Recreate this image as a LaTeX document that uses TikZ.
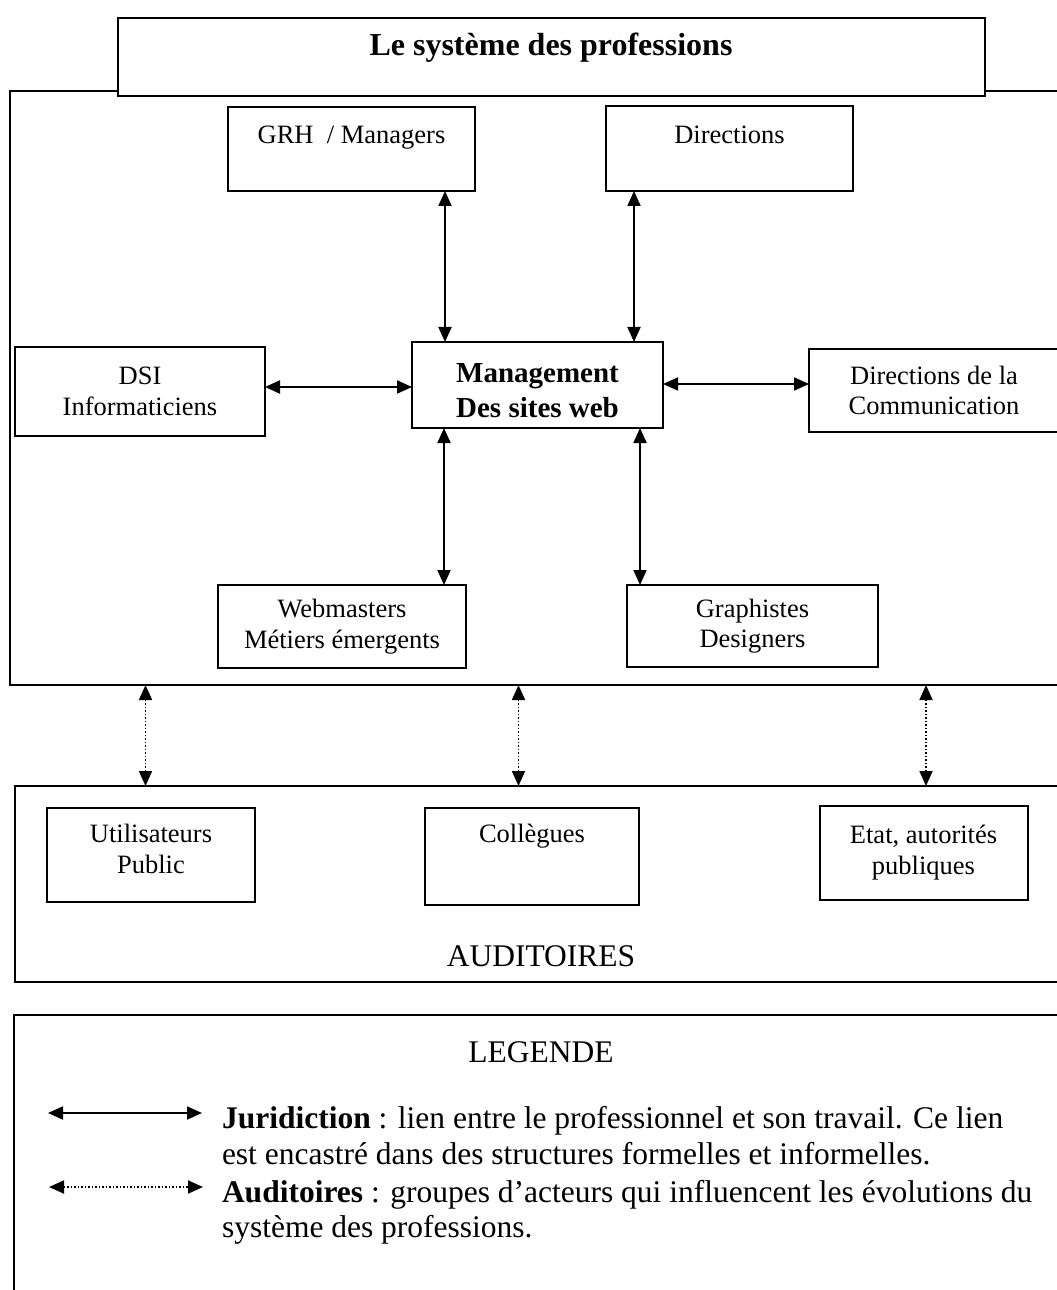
\documentclass[tikz,border=0pt]{standalone}
\usepackage{fontspec}
\setmainfont{Liberation Serif}
\usepackage{tikz}
\usetikzlibrary{arrows.meta}

\begin{document}
\begin{tikzpicture}[x = 0.4pt, y = -0.4pt, >={Triangle[length=6pt, width=5.2pt]}]
	\tikzstyle{every node} = [rectangle, inner sep = 0pt, outer sep = 0pt]
	\tikzstyle{cadre} = [draw = black, line width = 0.8pt, fill = white]
	\tikzstyle{petit} = [font = \fontsize{10.6}{12.2}\selectfont, align = center]
	\tikzstyle{grand} = [font = \fontsize{12.6}{14.4}\selectfont]
	\tikzstyle{lien} = [line width = 0.8pt, <->]
	\tikzstyle{audience} = [line width = 0.7pt, <->, dash pattern = on 0.7pt off 0.7pt]
\useasboundingbox (0,0) rectangle (1056,1290);
% les trois cadres
\node[cadre, minimum width = 424pt, minimum height = 237.6pt] (sys) at (540,388) {};
\node[cadre, minimum width = 422pt, minimum height = 78.4pt] (aud) at (542.5,884) {};
\node[cadre, minimum width = 422.4pt, minimum height = 118pt] (leg) at (542,1162.5) {};
\node[cadre, minimum width = 346.8pt, minimum height = 31.2pt] (titre) at (551.5,57) {};
\node[font = \fontsize{12.8}{14}\selectfont\bfseries] (titre-t) at (551,48) {Le système des professions};
% les professions
\node[cadre, minimum width = 98.8pt, minimum height = 33.6pt] (grh) at (351.5,149) {};
\node[petit] (grh-t) at (351.5,138) {GRH\ \ / Managers};
\node[cadre, minimum width = 98.8pt, minimum height = 34pt] (dir) at (729.5,148.5) {};
\node[petit] (dir-t) at (729.5,135) {Directions};
\node[cadre, petit, minimum width = 100pt, minimum height = 35.6pt] (dsi) at (140,391.5) {DSI\\Informaticiens};
\node[cadre, minimum width = 100.4pt, minimum height = 34.4pt] (mws) at (537.5,385) {};
\node[align = center, font = \fontsize{11.6}{14}\selectfont\bfseries] (mws-t) at (537.5,391) {Management\\Des sites web};
\node[cadre, petit, minimum width = 100pt, minimum height = 33.2pt] (com) at (934,390.5) {Directions de la\\Communication};
\node[cadre, petit, minimum width = 99.2pt, minimum height = 33.2pt] (web) at (342,626.5) {Webmasters\\Métiers émergents};
\node[cadre, petit, minimum width = 100.4pt, minimum height = 32.8pt] (gra) at (752.5,626) {Graphistes\\Designers};
% les auditoires
\node[cadre, minimum width = 83.2pt, minimum height = 37.6pt] (uti) at (151,854.5) {};
\node[petit] (uti-t) at (151,849) {Utilisateurs\\Public};
\node[cadre, minimum width = 85.6pt, minimum height = 38.8pt] (col) at (532,856.5) {};
\node[petit] (col-t) at (532,836) {Collègues};
\node[cadre, petit, minimum width = 83.2pt, minimum height = 37.4pt] (eta) at (923.5,852.75) {Etat, autorités\\publiques};
\node[grand] (aud-t) at (541,956) {AUDITOIRES};
% liens de juridiction
\coordinate (x1) at (445,0);
\coordinate (x2) at (634,0);
\coordinate (x3) at (444,0);
\coordinate (x4) at (640,0);
\coordinate (y1) at (0,387);
\coordinate (y2) at (0,384);
	\path[draw][lien] (grh.south -| x1) -- (mws.north -| x1);
	\path[draw][lien] (dir.south -| x2) -- (mws.north -| x2);
	\path[draw][lien] (dsi.east |- y1) -- (mws.west |- y1);
	\path[draw][lien] (mws.east |- y2) -- (com.west |- y2);
	\path[draw][lien] (mws.south -| x3) -- (web.north -| x3);
	\path[draw][lien] (mws.south -| x4) -- (gra.north -| x4);
% liens avec les auditoires
\coordinate (p1) at (145.5,0);
\coordinate (p2) at (518.5,0);
\coordinate (p3) at (926,0);
	\path[draw][audience] (sys.south -| p1) -- (aud.north -| p1);
	\path[draw][audience] (sys.south -| p2) -- (aud.north -| p2);
	\path[draw][audience] (sys.south -| p3) -- (aud.north -| p3);
% legende
\node[grand] (leg-t) at (541,1052) {LEGENDE};
\coordinate (j1) at (48,1113);
\coordinate (j2) at (202,1113);
\coordinate (a1) at (49,1187);
\coordinate (a2) at (203,1187);
	\path[draw][lien] (j1) -- (j2);
	\path[draw][audience] (a1) -- (a2);
\node[grand, anchor = base west] (l1) at (222,1128) {\textbf{Juridiction} : lien entre le professionnel et son travail. Ce lien};
\node[grand, anchor = base west] (l2) at (222,1164) {est encastré dans des structures formelles et informelles.};
\node[grand, anchor = base west] (l3) at (222,1202) {\textbf{Auditoires} : groupes d’acteurs qui influencent les évolutions du};
\node[grand, anchor = base west] (l4) at (222,1237) {système des professions.};
	\end{tikzpicture}
\end{document}
